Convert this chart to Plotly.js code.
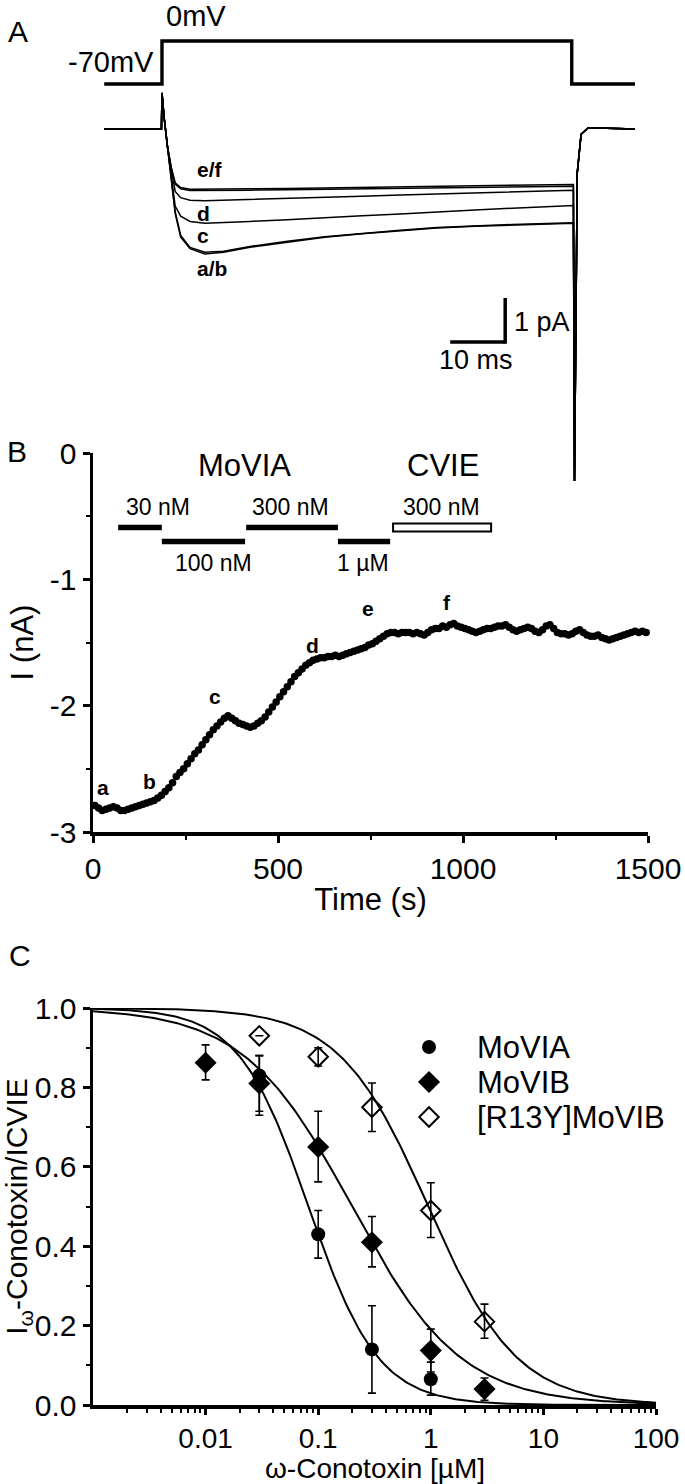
<!DOCTYPE html>
<html><head><meta charset="utf-8">
<script src="https://cdn.plot.ly/plotly-3.0.1.min.js"></script>
<style>html,body{margin:0;padding:0;background:#fff}#chart{width:685px;height:1484px}</style>
</head><body><div id="chart"></div>
<script>
// ---------- Panel A : voltage protocol and current traces ----------
const stepTime    = [-10.5, 0, 0, 74.5, 74.5, 86];
const stepVoltage = [-70, -70, 0, 0, -70, -70];

const traceTime = [-10.5, -0.1, 0, 0.4, 1.0, 1.7, 2.4, 3.4, 5.1, 7.8, 11.2, 16, 22.8, 29.6, 36.4, 43.3, 50, 56.9, 63.7, 70, 74.8, 75.0, 75.5, 76.2, 77.5, 86];
const traceA = [0, 0, 0.82, 0.25, -0.40, -1.10, -1.92, -2.46, -2.72, -2.84, -2.80, -2.69, -2.57, -2.46, -2.38, -2.31, -2.25, -2.21, -2.18, -2.16, -2.14, -8.0, -1.0, -0.12, 0.03, 0];
const traceB = [0, 0, 0.82, 0.25, -0.40, -1.08, -1.88, -2.42, -2.69, -2.80, -2.78, -2.67, -2.55, -2.45, -2.37, -2.30, -2.24, -2.20, -2.17, -2.15, -2.13, -8.0, -1.0, -0.12, 0.03, 0];
const traceC = [0, 0, 0.82, 0.25, -0.40, -1.05, -1.75, -1.98, -2.10, -2.14, -2.13, -2.10, -2.06, -2.01, -1.97, -1.93, -1.88, -1.84, -1.80, -1.77, -1.74, -8.0, -1.0, -0.12, 0.03, 0];
const traceD = [0, 0, 0.82, 0.25, -0.40, -0.95, -1.42, -1.56, -1.62, -1.63, -1.62, -1.60, -1.58, -1.56, -1.53, -1.50, -1.48, -1.45, -1.43, -1.41, -1.39, -8.0, -1.0, -0.12, 0.03, 0];
const traceE = [0, 0, 0.82, 0.25, -0.40, -0.90, -1.25, -1.36, -1.40, -1.40, -1.40, -1.39, -1.38, -1.37, -1.36, -1.35, -1.34, -1.33, -1.32, -1.31, -1.30, -8.0, -1.0, -0.12, 0.03, 0];
const traceF = [0, 0, 0.82, 0.25, -0.40, -0.88, -1.22, -1.33, -1.37, -1.37, -1.37, -1.36, -1.35, -1.34, -1.33, -1.32, -1.31, -1.29, -1.28, -1.27, -1.26, -8.0, -1.0, -0.12, 0.03, 0];
const traceLabels = ['e/f', 'd', 'c', 'a/b'];
const traceLabelTime = [8.7, 7.5, 7.5, 9.1];
const traceLabelCurrent = [-0.93, -1.91, -2.41, -3.16];
const scaleBarMs = 10, scaleBarPA = 1;

// ---------- Panel B : time course ----------
const timeS = [5,15,25,35,45,55,65,75,85,95,105,115,125,135,145,155,165,175,185,195,205,215,225,235,245,255,265,275,285,295,305,315,325,335,345,355,365,375,385,395,405,415,425,435,445,455,465,475,485,495,505,515,525,535,545,555,565,575,585,595,605,615,625,635,645,655,665,675,685,695,705,715,725,735,745,755,765,775,785,795,805,815,825,835,845,855,865,875,885,895,905,915,925,935,945,955,965,975,985,995,1005,1015,1025,1035,1045,1055,1065,1075,1085,1095,1105,1115,1125,1135,1145,1155,1165,1175,1185,1195,1205,1215,1225,1235,1245,1255,1265,1275,1285,1295,1305,1315,1325,1335,1345,1355,1365,1375,1385,1395,1405,1415,1425,1435,1445,1455,1465,1475,1485,1495];
const currentNA = [-2.79,-2.81,-2.83,-2.82,-2.81,-2.80,-2.81,-2.83,-2.83,-2.82,-2.81,-2.80,-2.79,-2.78,-2.77,-2.76,-2.75,-2.73,-2.71,-2.68,-2.65,-2.61,-2.56,-2.53,-2.50,-2.46,-2.42,-2.38,-2.35,-2.31,-2.27,-2.23,-2.19,-2.16,-2.13,-2.10,-2.08,-2.10,-2.12,-2.14,-2.15,-2.16,-2.17,-2.16,-2.14,-2.12,-2.09,-2.05,-2.01,-1.97,-1.93,-1.89,-1.85,-1.81,-1.77,-1.74,-1.71,-1.68,-1.66,-1.64,-1.63,-1.62,-1.62,-1.61,-1.61,-1.60,-1.61,-1.60,-1.59,-1.58,-1.57,-1.56,-1.55,-1.54,-1.52,-1.51,-1.49,-1.47,-1.45,-1.43,-1.42,-1.42,-1.43,-1.42,-1.42,-1.42,-1.43,-1.42,-1.43,-1.44,-1.42,-1.40,-1.39,-1.39,-1.37,-1.38,-1.36,-1.35,-1.37,-1.38,-1.39,-1.40,-1.41,-1.42,-1.41,-1.40,-1.39,-1.39,-1.38,-1.37,-1.37,-1.36,-1.38,-1.40,-1.41,-1.40,-1.39,-1.38,-1.39,-1.41,-1.42,-1.40,-1.37,-1.36,-1.39,-1.42,-1.43,-1.43,-1.44,-1.43,-1.41,-1.40,-1.42,-1.44,-1.45,-1.45,-1.44,-1.46,-1.47,-1.48,-1.47,-1.46,-1.45,-1.44,-1.43,-1.42,-1.41,-1.42,-1.41,-1.42];
const pointLabels = ['a','b','c','d','e','f'];
const pointLabelTime = [27, 154, 330, 592, 744, 956];
const pointLabelCurrent = [-2.65, -2.60, -1.93, -1.52, -1.23, -1.18];
const appLabels = ['30 nM', '100 nM', '300 nM', '1 \u00B5M', '300 nM'];
const appStart  = [68, 186, 414, 662, 811];
const appEnd    = [186, 411, 662, 803, 1076];
const appLevel  = [-0.59, -0.70, -0.59, -0.70, -0.59];
const appOpen   = [false, false, false, false, true];
const appLabelTime = [176, 325, 534, 730, 943];
const appLabelLevel = [-0.43, -0.87, -0.43, -0.87, -0.43];
const toxinLabels = ['MoVIA', 'CVIE'];
const toxinLabelTime = [409, 946];
const toxinLabelLevel = [-0.10, -0.10];

// ---------- Panel C : concentration-response ----------
const seriesNames = ['MoVIA', 'MoVIB', '[R13Y]MoVIB'];
const movia_conc = [0.03, 0.1, 0.3, 1];
const movia_val  = [0.83, 0.43, 0.14, 0.065];
const movia_errPlus  = [0.05, 0.06, 0.11, 0.043];
const movia_errMinus = [0.09, 0.06, 0.11, 0.04];
const movib_conc = [0.01, 0.03, 0.1, 0.3, 1, 3];
const movib_val  = [0.862, 0.81, 0.65, 0.41, 0.137, 0.04];
const movib_errPlus  = [0.045, 0.07, 0.09, 0.065, 0.054, 0.028];
const movib_errMinus = [0.043, 0.08, 0.088, 0.062, 0.054, 0.028];
const r13y_conc = [0.03, 0.1, 0.3, 1, 3];
const r13y_val  = [0.93, 0.877, 0.75, 0.49, 0.21];
const r13y_errPlus  = [0, 0.023, 0.061, 0.07, 0.044];
const r13y_errMinus = [0, 0.023, 0.061, 0.068, 0.042];
// Hill-fit parameters
const fitIC50 = [0.082, 0.20, 0.95];
const fitHill = [1.40, 0.90, 1.10];

// ---------- geometry helpers ----------
const W = 685, H = 1484;
const px = v => v / W;
const py = v => 1 - v / H;
const FONT = 'Liberation Sans, Arial, sans-serif';
const FS = 30;

const traces = [];
// Panel A
traces.push({x: stepTime, y: stepVoltage, xaxis: 'x3', yaxis: 'y4', mode: 'lines',
  line: {color: '#000', width: 3.4, shape: 'linear'}, showlegend: false, hoverinfo: 'skip'});
[traceA, traceB, traceC, traceD, traceE, traceF].forEach(tr => {
  traces.push({x: traceTime, y: tr, xaxis: 'x3', yaxis: 'y3', mode: 'lines',
    line: {color: '#000', width: 1.5}, showlegend: false, hoverinfo: 'skip'});
});
// Panel B
traces.push({x: timeS, y: currentNA, xaxis: 'x2', yaxis: 'y2', mode: 'markers',
  marker: {color: '#000', size: 7.5, line: {width: 0}}, cliponaxis: false, showlegend: false});

// Panel C fits
const fitConc = [];
for (let e = -3; e <= 2.0001; e += 0.02) fitConc.push(Math.pow(10, e));
fitIC50.forEach((ic, i) => {
  traces.push({x: fitConc, y: fitConc.map(c => 1 / (1 + Math.pow(c / ic, fitHill[i]))),
    xaxis: 'x', yaxis: 'y', mode: 'lines', line: {color: '#000', width: 2},
    showlegend: false, hoverinfo: 'skip'});
});
function errObj(p, m) {
  return {type: 'data', symmetric: false, array: p, arrayminus: m, color: '#000', thickness: 1.6, width: 4};
}
const markerStyles = [
  {symbol: 'circle', size: 14, color: '#000'},
  {symbol: 'diamond', size: 17, color: '#000'},
  {symbol: 'diamond-open', size: 15, color: '#000', line: {width: 2, color: '#000'}}
];
traces.push({x: movia_conc, y: movia_val, name: seriesNames[0], mode: 'markers', xaxis: 'x', yaxis: 'y',
  marker: markerStyles[0], error_y: errObj(movia_errPlus, movia_errMinus), cliponaxis: false, showlegend: false});
traces.push({x: movib_conc, y: movib_val, name: seriesNames[1], mode: 'markers', xaxis: 'x', yaxis: 'y',
  marker: markerStyles[1], error_y: errObj(movib_errPlus, movib_errMinus), cliponaxis: false, showlegend: false});
traces.push({x: r13y_conc, y: r13y_val, name: seriesNames[2], mode: 'markers', xaxis: 'x', yaxis: 'y',
  marker: markerStyles[2], error_y: errObj(r13y_errPlus, r13y_errMinus), cliponaxis: false, showlegend: false});
// legend key symbols (one row per series, on a hidden key axis)
seriesNames.forEach((n, i) => {
  traces.push({x: [0], y: [i], xaxis: 'x5', yaxis: 'y5', mode: 'markers', marker: markerStyles[i],
    showlegend: false, hoverinfo: 'skip', cliponaxis: false});
});

// ---------- shapes ----------
const shapes = [];
appStart.forEach((s, i) => {
  const half = appOpen[i] ? 0.032 : 0.022;
  shapes.push({type: 'rect', xref: 'x2', yref: 'y2', x0: s, x1: appEnd[i], y0: appLevel[i] - half, y1: appLevel[i] + half,
    fillcolor: appOpen[i] ? '#fff' : '#000', line: {color: '#000', width: appOpen[i] ? 2 : 0}});
});
const sbT0 = 52.4, sbI0 = -4.84;
shapes.push({type: 'line', xref: 'x3', yref: 'y3', x0: sbT0, x1: sbT0 + scaleBarMs, y0: sbI0, y1: sbI0, line: {color: '#000', width: 3.5}});
shapes.push({type: 'line', xref: 'x3', yref: 'y3', x0: sbT0 + scaleBarMs, x1: sbT0 + scaleBarMs, y0: sbI0 - 0.04, y1: sbI0 + scaleBarPA, line: {color: '#000', width: 3.5}});

// ---------- annotations ----------
const ann = [];
function txt(x, y, text, size, opts) {
  return Object.assign({x, y, text, showarrow: false, font: {family: FONT, size, color: '#000'}, xanchor: 'center', yanchor: 'middle'}, opts || {});
}
ann.push(txt(px(18), py(31), 'A', FS, {xref: 'paper', yref: 'paper'}));
ann.push(txt(px(17), py(452), 'B', FS, {xref: 'paper', yref: 'paper'}));
ann.push(txt(px(20), py(955), 'C', FS, {xref: 'paper', yref: 'paper'}));
ann.push(txt(px(196), py(16), '0mV', 29, {xref: 'paper', yref: 'paper'}));
ann.push(txt(px(111), py(62), '-70mV', 29, {xref: 'paper', yref: 'paper'}));
traceLabels.forEach((t, i) => ann.push(txt(traceLabelTime[i], traceLabelCurrent[i], '<b>' + t + '</b>', 21, {xref: 'x3', yref: 'y3'})));
ann.push(txt(sbT0 + scaleBarMs / 2 - 0.3, sbI0 - 0.42, '10 ms', 27, {xref: 'x3', yref: 'y3'}));
ann.push(txt(sbT0 + scaleBarMs + 1.3, sbI0 + 0.45, '1 pA', 27, {xref: 'x3', yref: 'y3', xanchor: 'left'}));
pointLabels.forEach((t, i) => ann.push(txt(pointLabelTime[i], pointLabelCurrent[i], '<b>' + t + '</b>', 21, {xref: 'x2', yref: 'y2'})));
appLabels.forEach((t, i) => ann.push(txt(appLabelTime[i], appLabelLevel[i], t, 23, {xref: 'x2', yref: 'y2'})));
toxinLabels.forEach((t, i) => ann.push(txt(toxinLabelTime[i], toxinLabelLevel[i], t, 31, {xref: 'x2', yref: 'y2'})));
seriesNames.forEach((n, i) => ann.push(txt(px(475), i, n, 31, {xref: 'paper', yref: 'y5', xanchor: 'left'})));
// x-axis title of panel C, placed just under its tick labels
ann.push(txt(px(374.5), py(1468), '\u03C9-Conotoxin [\u00B5M]', 28, {xref: 'paper', yref: 'paper'}));

// ---------- axes ----------
const axBase = {showline: true, linecolor: '#000', linewidth: 3.5, ticks: 'outside', tickcolor: '#000',
  tickwidth: 3, ticklen: 7, showgrid: false, zeroline: false, tickfont: {family: FONT, size: FS, color: '#000'},
  fixedrange: true, automargin: false};
const minorTicksC = [];
for (let d = -3; d < 2; d++) for (let m = 2; m <= 9; m++) minorTicksC.push(m * Math.pow(10, d));

const layout = {
  width: W, height: H, margin: {l: 0, r: 0, t: 0, b: 0},
  paper_bgcolor: '#fff', plot_bgcolor: 'rgba(0,0,0,0)',
  font: {family: FONT, color: '#000'},
  showlegend: false,
  // Panel C
  xaxis: Object.assign({}, axBase, {type: 'log', range: [-3, 2], domain: [px(93), px(656)], anchor: 'y',
    tickvals: [0.01, 0.1, 1, 10, 100], ticktext: ['0.01', '0.1', '1', '10', '100'],
    ticklen: 6, tickfont: {family: FONT, size: 28, color: '#000'},
    minor: {tickvals: minorTicksC, ticklen: 4, tickwidth: 2, tickcolor: '#000', ticks: 'outside'}}),
  yaxis: Object.assign({}, axBase, {range: [0, 1], domain: [py(1405), py(1008)], anchor: 'x',
    tickvals: [0, 0.2, 0.4, 0.6, 0.8, 1.0], ticktext: ['0.0', '0.2', '0.4', '0.6', '0.8', '1.0'],
    minor: {tickvals: [0.1, 0.3, 0.5, 0.7, 0.9], ticklen: 4, tickwidth: 2, tickcolor: '#000', ticks: 'outside'},
    title: {text: 'I<sub>\u03C9</sub>-Conotoxin/ICVIE', font: {family: FONT, size: FS}, standoff: 2}}),
  // Panel B
  xaxis2: Object.assign({}, axBase, {range: [0, 1500], domain: [px(93), px(648)], anchor: 'y2',
    tickvals: [0, 500, 1000, 1500], ticktext: ['0', '500', '1000', '1500'],
    minor: {tickvals: [250, 750, 1250], ticklen: 4, tickwidth: 2, tickcolor: '#000', ticks: 'outside'},
    title: {text: 'Time (s)', font: {family: FONT, size: 31}, standoff: 6}}),
  yaxis2: Object.assign({}, axBase, {range: [-3, 0], domain: [py(832), py(453)], anchor: 'x2',
    tickvals: [-3, -2, -1, 0], ticktext: ['-3', '-2', '-1', '0'],
    minor: {tickvals: [-2.5, -1.5, -0.5], ticklen: 4, tickwidth: 2, tickcolor: '#000', ticks: 'outside'},
    title: {text: 'I (nA)', font: {family: FONT, size: 31}, standoff: 8}}),
  // Panel A
  xaxis3: {domain: [0, 1], range: [-29.45, 95.09], visible: false, anchor: 'y3', fixedrange: true},
  yaxis3: {domain: [py(490), py(80)], range: [-8.205, 1.114], visible: false, anchor: 'x3', fixedrange: true},
  yaxis4: {domain: [py(100), py(30)], range: [-96.0, 17.9], visible: false, anchor: 'x3', fixedrange: true},
  // legend key axis (rows 35 px apart, first row at y=1047)
  xaxis5: {domain: [px(419), px(439)], range: [-1, 1], visible: false, anchor: 'y5', fixedrange: true},
  yaxis5: {domain: [py(1134.5), py(1029.5)], range: [2.5, -0.5], visible: false, anchor: 'x5', fixedrange: true},
  shapes: shapes,
  annotations: ann
};

Plotly.newPlot('chart', traces, layout, {staticPlot: true, displayModeBar: false});
</script></body></html>
